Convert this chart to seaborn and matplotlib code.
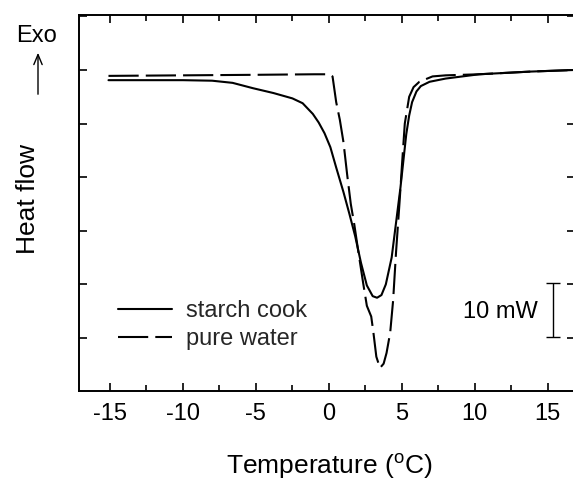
import numpy as np
import pandas as pd
import matplotlib
matplotlib.use("Agg")
import matplotlib.pyplot as plt
import seaborn as sns
from matplotlib.ticker import MultipleLocator

# ---- data (heat flow in mW, relative) ----
starch_T = [-15.1, -10, -8, -6.6, -5.2, -3.8, -2.5, -1.8, -1.1, -0.7, -0.3, 0.1, 0.5,
            1.0, 1.4, 1.8, 2.2, 2.6, 3.0, 3.3, 3.6, 3.9, 4.3, 4.6, 4.9, 5.1,
            5.3, 5.5, 5.7, 6.0, 6.3, 6.9, 8.0, 10.3, 13.8, 16.8]
starch_Q = [-1.9, -1.9, -2.0, -2.4, -3.4, -4.3, -5.3, -6.2, -8.2, -9.8, -11.8, -14.4, -18.2,
            -22.8, -26.8, -31.0, -36.0, -40.2, -42.2, -42.5, -42.0, -40.0, -35.0, -28.5, -22.0, -17.0,
            -12.0, -8.5, -6.0, -4.0, -3.0, -2.2, -1.6, -0.8, -0.3, 0.0]

water_T = [-15.1, -10, -5, -1, 0.0, 0.25, 0.5, 0.75, 1.0, 1.25, 1.5, 1.75, 2.0,
           2.35, 2.6, 2.9, 3.05, 3.25, 3.5, 3.75, 3.95, 4.2, 4.4, 4.6, 4.85, 5.0,
           5.2, 5.5, 5.8, 6.2, 7.1, 8.0, 10.3, 13.8, 16.8]
water_Q = [-1.1, -1.0, -0.9, -0.8, -0.8, -1.2, -6.0, -9.3, -13.5, -19.5, -25.0, -29.0, -33.6,
           -39.8, -44.0, -46.0, -49.0, -53.5, -55.6, -54.8, -52.8, -49.0, -43.0, -34.0, -24.3, -18.0,
           -10.0, -5.0, -3.2, -2.2, -1.2, -1.0, -0.8, -0.3, 0.0]

series_names = ["starch cook", "pure water"]
scale_bar_mW = 10

df = pd.concat([
    pd.DataFrame({"T": starch_T, "Q": starch_Q, "sample": series_names[0]}),
    pd.DataFrame({"T": water_T, "Q": water_Q, "sample": series_names[1]}),
], ignore_index=True)

sns.set_theme(style="ticks")
plt.rcParams["font.family"] = ["Liberation Sans", "DejaVu Sans"]
plt.rcParams["mathtext.fontset"] = "custom"
plt.rcParams["mathtext.rm"] = "Liberation Sans"

fig = plt.figure(figsize=(5.73, 4.83), dpi=100)
W, H = 573, 483
left, right, top, bottom = 79, 574.7, 15, 391
ax = fig.add_axes([left / W, 1 - bottom / H, (right - left) / W, (bottom - top) / H])

sns.lineplot(data=df, x="T", y="Q", hue="sample", style="sample",
             palette={series_names[0]: "black", series_names[1]: "black"},
             dashes={series_names[0]: "", series_names[1]: (14.5, 3.4)},
             estimator=None, sort=False, lw=1.5, legend=False, ax=ax)

handles = ax.get_lines()[:2]
leg = ax.legend(handles, series_names, loc="center left",
                bbox_to_anchor=((118 - left) / (right - left), (bottom - 325) / (bottom - top)),
                frameon=False, fontsize=17, handlelength=2.3, handletextpad=0.6,
                borderpad=0, borderaxespad=0, labelspacing=0.25)

ax.set_xlim(-17.12, 16.84)
ax.set_ylim(-59.9, 10.26)

ax.xaxis.set_major_locator(MultipleLocator(5))
ax.xaxis.set_minor_locator(MultipleLocator(2.5))
ax.yaxis.set_major_locator(MultipleLocator(10))
ax.tick_params(axis="x", which="both", direction="in", top=True, bottom=True,
               labelsize=17, pad=9, width=1.2, color="black", labelcolor="black")
ax.tick_params(axis="x", which="major", length=5.5)
ax.tick_params(axis="x", which="minor", length=4)
ax.tick_params(axis="y", which="both", direction="in", left=True, right=True,
               labelleft=False, length=5.5, width=1.2, color="black")
for s in ax.spines.values():
    s.set_linewidth(1.4)
    s.set_color("black")

ax.set_xticklabels([f"{int(v)}" for v in ax.get_xticks()])
ax.set_xlim(-17.12, 16.84)

ax.set_xlabel(r"Temperature ($^{\mathrm{o}}$C)", fontsize=19, color="black")
ax.set_ylabel("Heat flow", fontsize=19, color="black")
ax.xaxis.set_label_coords(0.506, -0.16)
ax.yaxis.set_label_coords(-0.079, 0.51)

# scale bar
ax.errorbar([15.34], [-44.75], yerr=[scale_bar_mW / 2], color="black",
            capsize=4.7, elinewidth=1.0, capthick=1.0, fmt="none")
ax.text(14.3, -45.1, f"{scale_bar_mW} mW", ha="right", va="center", fontsize=17, color="black")

# Exo arrow
fig.text(37 / W, 1 - 36 / H, "Exo", ha="center", va="center", fontsize=17, color="black")
ax.annotate("", xy=(38 / W, 1 - 50 / H), xytext=(38 / W, 1 - 97 / H),
            xycoords="figure fraction", textcoords="figure fraction",
            arrowprops=dict(arrowstyle="->,head_length=0.6,head_width=0.25", lw=1.0, color="black"))

fig.savefig("out.png", dpi=100)
